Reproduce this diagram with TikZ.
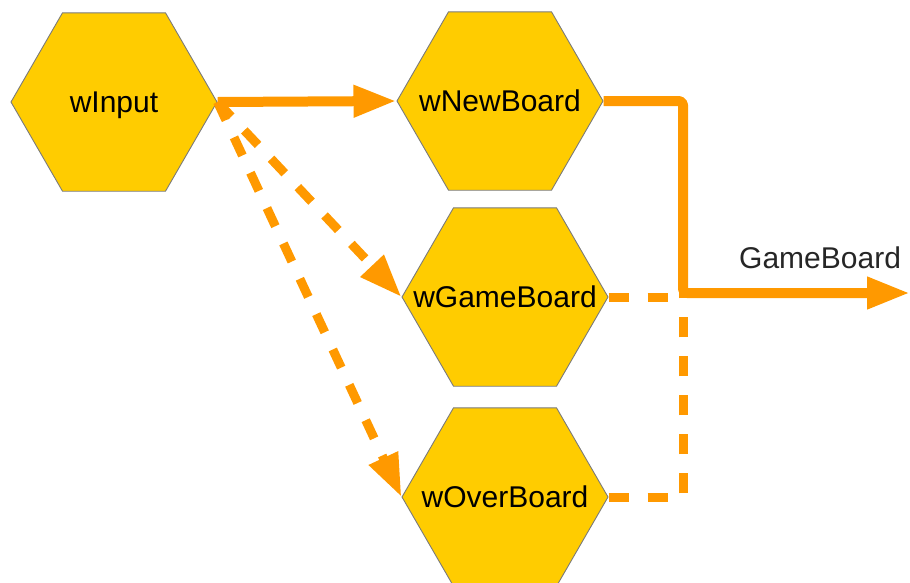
\documentclass[tikz,border=0pt]{standalone}
\usepackage{fontspec}
\setmainfont{Liberation Sans}
\usetikzlibrary{shapes.geometric,arrows.meta}
\definecolor{hexfill}{HTML}{FFCC00}
\definecolor{hexline}{HTML}{7A7A7A}
\definecolor{flow}{HTML}{FF9900}
\newcommand{\hexlabel}[1]{\raisebox{-0.358em}[0pt][0pt]{\makebox[0pt]{#1}}}
\tikzset{
  widget/.style={regular polygon, regular polygon sides=6, minimum size=206pt,
    inner sep=0pt, fill=hexfill, draw=hexline, line width=0.9pt,
    font=\fontsize{30pt}{36pt}\selectfont, text=black},
  flowline/.style={draw=flow, line width=10pt, line join=round},
  flowdash/.style={draw=flow, line width=9pt, dash pattern=on 20pt off 19pt},
  flowtip/.style={-{Triangle[length=43pt,width=30pt]}},
  outlabel/.style={font=\fontsize{30pt}{36pt}\selectfont, text=black!85, inner sep=0pt, anchor=base west}
}
\begin{document}
\begin{tikzpicture}[x=1pt,y=-1pt]
\useasboundingbox (0,0) rectangle (910,582);

% widgets
\node[widget] (in)   at (114,102) {\hexlabel{wInput}};
\node[widget] (new)  at (500,101) {\hexlabel{wNewBoard}};
\node[widget] (game) at (505,297) {\hexlabel{wGameBoard}};
\node[widget] (over) at (505,497) {\hexlabel{wOverBoard}};

% joint and output
\coordinate (j) at (683,293);
\coordinate (out) at (910,293);
\node[outlabel] (gb) at (739,268) {GameBoard};

% signals from the input widget
\draw[flowline, flowtip] (in.east) -- (new.west);
\draw[flowdash, flowtip] (in.east) -- (game.west);
\draw[flowdash, flowtip] (in.east) -- (over.west);

% board outputs merged into one
\draw[flowdash] (game.east) -- (game.east -| j);
\draw[flowdash] (over.east) -| (j);
\draw[flowline, flowtip, rounded corners=4pt] (new.east) -| (j) -- (out);
\end{tikzpicture}
\end{document}
